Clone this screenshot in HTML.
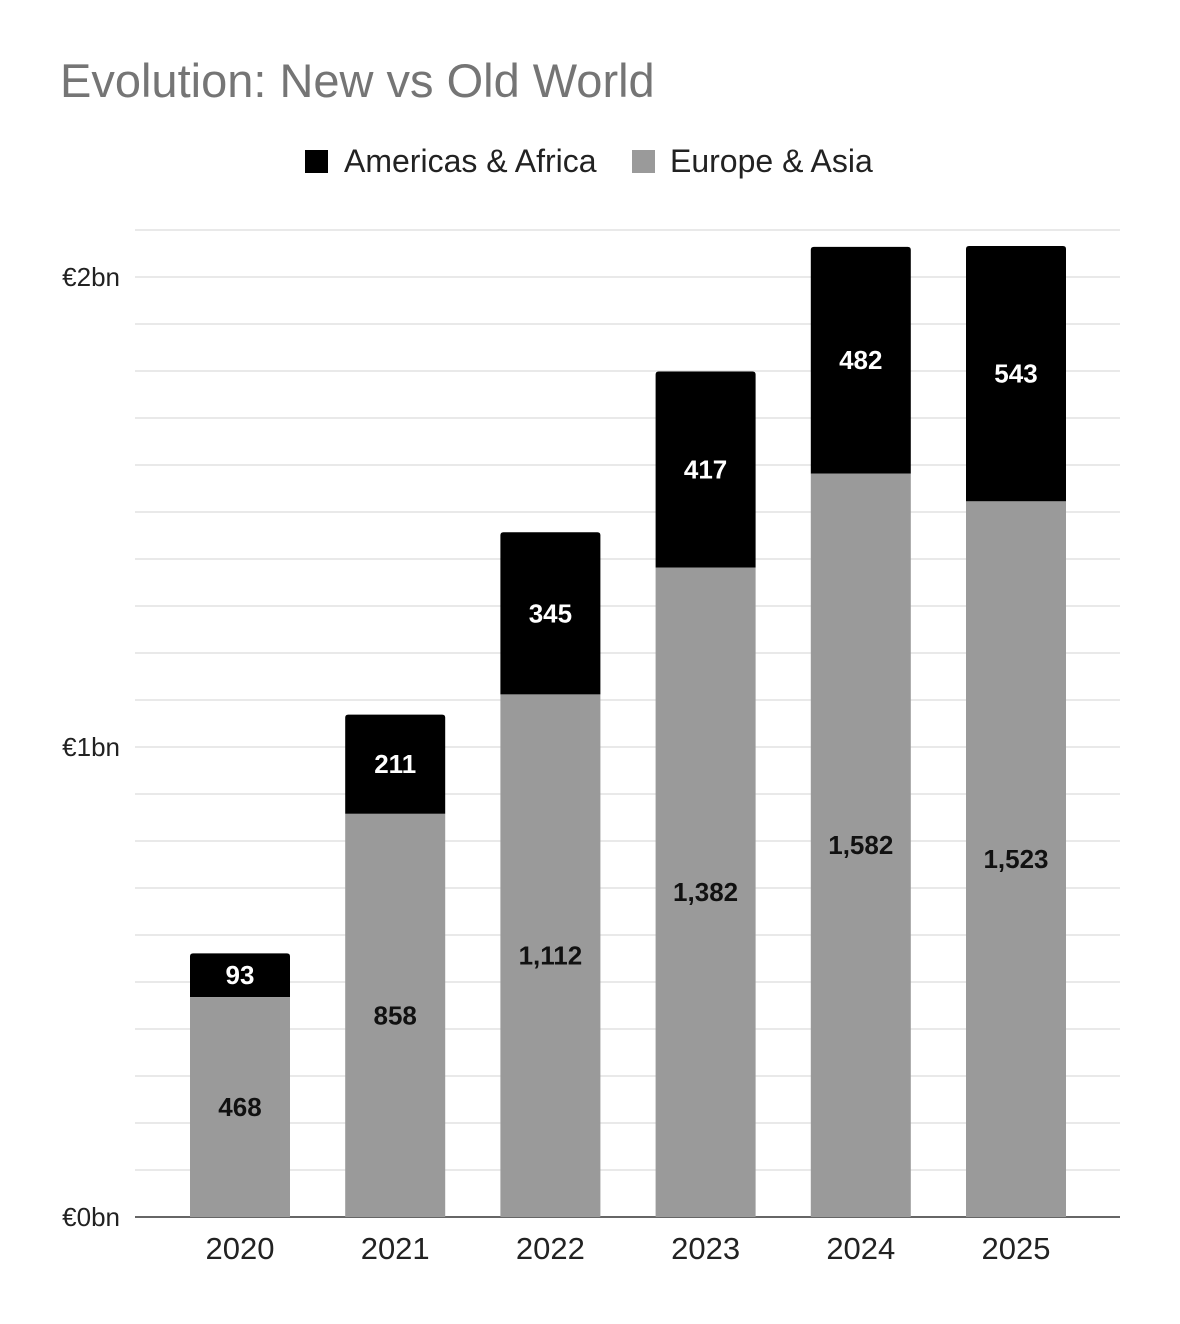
<!DOCTYPE html>
<html><head><meta charset="utf-8"><style>
body{margin:0;background:#fff;font-family:"Liberation Sans",Arial,sans-serif}
svg{display:block}
</style></head><body>
<svg id="chart" width="1180" height="1324" xmlns="http://www.w3.org/2000/svg">
<rect width="1180" height="1324" fill="#fff"/>
<text x="60" y="97" font-size="47" fill="#757575">Evolution: New vs Old World</text>
<g>
<rect x="305" y="150" width="23" height="23" fill="#000"/>
<text x="344" y="172" font-size="32" fill="#222">Americas &amp; Africa</text>
<rect x="632" y="150" width="23" height="23" fill="#9a9a9a"/>
<text x="670" y="172" font-size="32" fill="#222">Europe &amp; Asia</text>
</g>
<g id="grid"></g>
<g id="ylabels"></g>
<g id="bars"></g>
<g id="xlabels"></g>
</svg>
<script>
const categories = ["2020","2021","2022","2023","2024","2025"];
const europeAsia = [468, 858, 1112, 1382, 1582, 1523];
const americasAfrica = [93, 211, 345, 417, 482, 543];
const yTickValues = [0, 1000, 2000];
const yTickLabels = ["€0bn","€1bn","€2bn"];

const NS = "http://www.w3.org/2000/svg";
const y0 = 1217, pxPer = 0.47;
function yScale(v){ return y0 - v*pxPer; }
function xScale(i){ return 240 + i*155.2; }
function mk(tag, attrs, parent){ const e=document.createElementNS(NS,tag); for(const k in attrs) e.setAttribute(k,attrs[k]); parent.appendChild(e); return e; }

const grid=document.getElementById('grid');
for(let v=100; v<=2100; v+=100){
  const l=mk('line',{x1:135,x2:1120,y1:yScale(v),y2:yScale(v),stroke:'#dcdcdc','stroke-width':1.2},grid);
  
  
}
const ax=mk('line',{x1:135,x2:1120,y1:y0,y2:y0,stroke:'#333','stroke-width':1.5},grid);



const yl=document.getElementById('ylabels');
yTickValues.forEach((v,i)=>{
  const t=mk('text',{x:120,y:yScale(v)+9,'font-size':26,fill:'#222','text-anchor':'end'},yl);
  t.textContent=yTickLabels[i];
  
  
});

const bars=document.getElementById('bars');
const xl=document.getElementById('xlabels');
categories.forEach((c,i)=>{
  const cx=xScale(i), w=100;
  const a=europeAsia[i], b=americasAfrica[i];
  const r1=mk('rect',{x:cx-w/2,y:yScale(a),width:w,height:y0-yScale(a),fill:'#9a9a9a'},bars);
  
  
  const r2=mk('path',{d:`M${cx-w/2},${yScale(a)} V${yScale(a+b)+3} Q${cx-w/2},${yScale(a+b)} ${cx-w/2+3},${yScale(a+b)} H${cx+w/2-3} Q${cx+w/2},${yScale(a+b)} ${cx+w/2},${yScale(a+b)+3} V${yScale(a)} Z`,fill:'#000'},bars);
  
  
  const t1=mk('text',{x:cx,y:(yScale(a)+y0)/2+9,'font-size':26,'font-weight':'bold',fill:'#111','text-anchor':'middle'},bars);
  t1.textContent=a.toLocaleString('en-US');
  
  
  const t2=mk('text',{x:cx,y:(yScale(a)+yScale(a+b))/2+9,'font-size':26,'font-weight':'bold',fill:'#fff','text-anchor':'middle'},bars);
  t2.textContent=b.toLocaleString('en-US');
  
  
  const xt=mk('text',{x:cx,y:1259,'font-size':31,fill:'#222','text-anchor':'middle'},xl);
  xt.textContent=c;
  
  
});
</script>
</body></html>
